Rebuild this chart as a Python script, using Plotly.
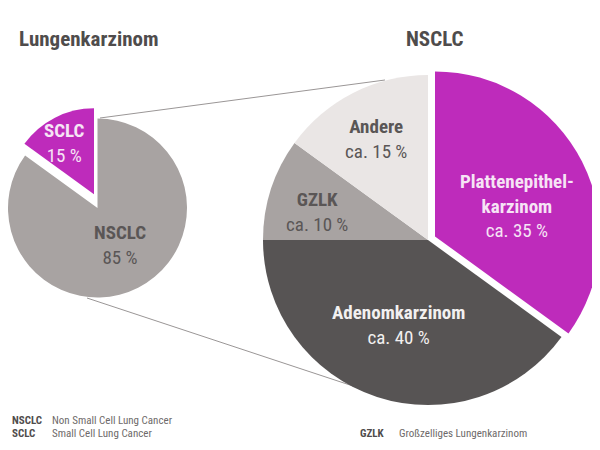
import plotly.graph_objects as go

W, H = 600, 450
# the exported page has an 8px body margin, so positions are given in window
# pixels and shifted back by this amount
OFF = 8

# left pie: Lungenkarzinom
lung_labels = ["NSCLC", "SCLC"]
lung_values = [85, 15]
lung_colors = ["#A8A3A2", "#BE2BBB"]

# right pie: NSCLC subtypes
nsclc_labels = ["Plattenepithel-<br>karzinom", "Adenomkarzinom", "GZLK", "Andere"]
nsclc_values = [35, 40, 10, 15]
nsclc_colors = ["#BE2BBB", "#575454", "#A8A3A2", "#EAE6E5"]

FONT = "Roboto Condensed, Liberation Sans Narrow, DejaVu Sans Condensed, Roboto, sans-serif"
CLEAR = "rgba(0,0,0,0)"


def px(x, y):
    return (x - OFF) / W, 1 - (y - OFF) / H


def px_domain(cx, cy, r):
    # window centre / radius -> paper domain
    x0, y1 = px(cx - r, cy - r)
    x1, y0 = px(cx + r, cy + r)
    return dict(x=[max(0, x0), min(1, x1)], y=[max(0, y0), min(1, y1)])


def pie(values, colors, domain):
    return go.Pie(values=values, marker=dict(colors=colors, line=dict(width=0)),
                  domain=domain, direction="clockwise", sort=False,
                  textinfo="none", hoverinfo="skip", showlegend=False)


fig = go.Figure()

# body of left pie, then the pulled-out SCLC slice drawn separately
fig.add_trace(pie(lung_values, [lung_colors[0], CLEAR], px_domain(97, 208, 90)))
fig.add_trace(pie(lung_values, [CLEAR, lung_colors[1]], px_domain(90, 194.3, 90)))

# right pie, with the Plattenepithel slice pulled out
fig.add_trace(pie(nsclc_values, [CLEAR] + nsclc_colors[1:], px_domain(428, 240, 165)))
fig.add_trace(pie(nsclc_values, [nsclc_colors[0], CLEAR, CLEAR, CLEAR], px_domain(435, 236.4, 165)))

# zoom lines
line_style = dict(color="#9A9696", width=1)
for (xa, ya), (xb, yb) in [((100, 118), (385, 80)), ((87, 298), (368, 391))]:
    x0, y0 = px(xa, ya)
    x1, y1 = px(xb, yb)
    fig.add_shape(type="line", xref="paper", yref="paper", layer="below",
                  x0=x0, y0=y0, x1=x1, y1=y1, line=line_style)


def label(x, y, text, color, size=19, anchor="center"):
    ax, ay = px(x, y)
    fig.add_annotation(x=ax, y=ay, xref="paper", yref="paper",
                       text=text, showarrow=False, xanchor=anchor, yanchor="middle",
                       font=dict(family=FONT, size=size, color=color))


# titles
label(17, 39, "<b>Lungenkarzinom</b>", "#4F4C4C", 21, "left")
label(435, 39, "<b>NSCLC</b>", "#4F4C4C", 21)

# slice labels
pct_left = [f"{v} %" for v in lung_values]
pct_right = [f"ca. {v} %" for v in nsclc_values]
label(64, 143, f"<b>{lung_labels[1]}</b><br>{pct_left[1]}", "#F6E4F5")
label(119.5, 244.5, f"<b>{lung_labels[0]}</b><br>{pct_left[0]}", "#5A5656")
label(517, 206, f"<b>{nsclc_labels[0]}</b><br>{pct_right[0]}", "#F6E4F5")
label(398, 324.5, f"<b>{nsclc_labels[1]}</b><br>{pct_right[1]}", "#F2F0F0")
label(317, 211.5, f"<b>{nsclc_labels[2]}</b><br>{pct_right[2]}", "#5A5656")
label(376, 138.5, f"<b>{nsclc_labels[3]}</b><br>{pct_right[3]}", "#5A5656")

# footnotes
notes = [(10, 420, "NSCLC", 50, "Non Small Cell Lung Cancer"),
         (10, 433, "SCLC", 50, "Small Cell Lung Cancer"),
         (358, 433, "GZLK", 397, "Großzelliges Lungenkarzinom")]
for x0, y0, abbr, x1, full in notes:
    label(x0, y0, f"<b>{abbr}</b>", "#4F4C4C", 11, "left")
    label(x1, y0, full, "#6E6A6A", 11, "left")

fig.update_layout(width=W, height=H, margin=dict(l=0, r=0, t=0, b=0),
                  paper_bgcolor="white", plot_bgcolor="white")

fig.write_html("out.html")
